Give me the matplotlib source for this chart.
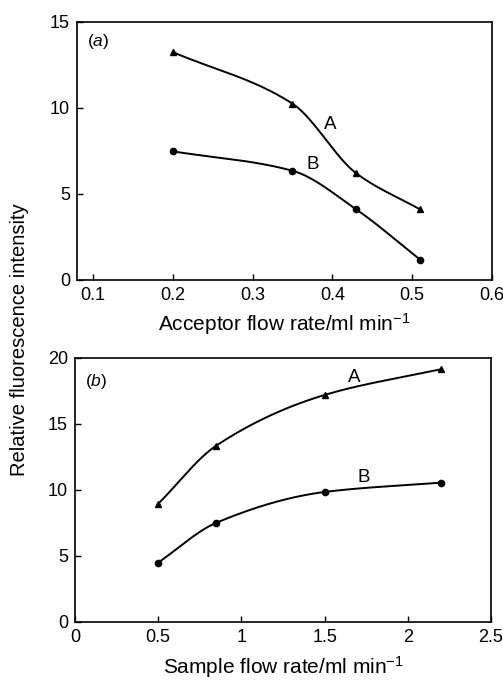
#!/usr/bin/env python3

"""Relative fluorescence intensity vs acceptor / sample flow rate (two panels)."""

import numpy as np
import matplotlib
matplotlib.use("Agg")
import matplotlib.pyplot as plt

plt.rcParams["font.family"] = ["Liberation Sans", "DejaVu Sans"]
plt.rcParams["mathtext.fontset"] = "custom"
plt.rcParams["mathtext.it"] = "Liberation Sans:italic"
plt.rcParams["mathtext.rm"] = "Liberation Sans"

# panel (a): acceptor flow rate
acceptor_rate = [0.2, 0.35, 0.43, 0.51]
acceptor_A = [13.25, 10.25, 6.2, 4.1]
acceptor_B = [7.48, 6.35, 4.1, 1.18]

# panel (b): sample flow rate
sample_rate = [0.5, 0.85, 1.5, 2.2]
sample_A = [8.95, 13.37, 17.2, 19.15]
sample_B = [4.5, 7.52, 9.85, 10.56]


def smooth(x, y, n=200):
    """Monotone cubic (Fritsch-Carlson) curve through the points, for drawing only."""
    x = np.asarray(x, float)
    y = np.asarray(y, float)
    h = np.diff(x)
    d = np.diff(y) / h
    m = np.zeros_like(y)
    m[0], m[-1] = d[0], d[-1]
    for i in range(1, len(y) - 1):
        if d[i - 1] * d[i] > 0:
            w1 = 2 * h[i] + h[i - 1]
            w2 = h[i] + 2 * h[i - 1]
            m[i] = (w1 + w2) / (w1 / d[i - 1] + w2 / d[i])
    xs = np.linspace(x[0], x[-1], n)
    idx = np.clip(np.searchsorted(x, xs) - 1, 0, len(x) - 2)
    t = (xs - x[idx]) / h[idx]
    h00 = 2 * t**3 - 3 * t**2 + 1
    h10 = t**3 - 2 * t**2 + t
    h01 = -2 * t**3 + 3 * t**2
    h11 = t**3 - t**2
    ys = h00 * y[idx] + h10 * h[idx] * m[idx] + h01 * y[idx + 1] + h11 * h[idx] * m[idx + 1]
    return xs, ys


def draw(ax, x, ya, yb):
    for y, mk, ms in ((ya, "^", 4.5), (yb, "o", 4.5)):
        xs, ys = smooth(x, y)
        ax.plot(xs, ys, color="black", lw=1.4)
        ax.plot(x, y, linestyle="none", marker=mk, ms=ms, color="black")
    ax.tick_params(direction="in", length=4, width=1, labelsize=13, pad=5)
    for s in ax.spines.values():
        s.set_linewidth(1.2)


fig = plt.figure(figsize=(5.03, 6.8), dpi=100)
ax1 = fig.add_axes([77 / 503, 1 - 280 / 680, 415 / 503, 258 / 680])
ax2 = fig.add_axes([75 / 503, 1 - 622 / 680, 416 / 503, 264 / 680])

draw(ax1, acceptor_rate, acceptor_A, acceptor_B)
ax1.set_xlim(0.08, 0.6)
ax1.set_ylim(0, 15)
ax1.set_xticks([0.1, 0.2, 0.3, 0.4, 0.5, 0.6])
ax1.set_xticklabels(["0.1", "0.2", "0.3", "0.4", "0.5", "0.6"])
ax1.set_yticks([0, 5, 10, 15])
ax1.set_xlabel("Acceptor flow rate/ml min$^{-1}$", fontsize=15, labelpad=5)
ax1.text(0.025, 0.925, "($\\mathit{a}$)", transform=ax1.transAxes, fontsize=12.5, va="center")
ax1.text(0.39, 8.8, "A", fontsize=13.5)
ax1.text(0.367, 6.45, "B", fontsize=13.5)

draw(ax2, sample_rate, sample_A, sample_B)
ax2.set_xlim(0, 2.5)
ax2.set_ylim(0, 20)
ax2.set_xticks([0, 0.5, 1, 1.5, 2, 2.5])
ax2.set_xticklabels(["0", "0.5", "1", "1.5", "2", "2.5"])
ax2.set_yticks([0, 5, 10, 15, 20])
ax2.set_xlabel("Sample flow rate/ml min$^{-1}$", fontsize=15, labelpad=6)
ax2.text(0.025, 0.91, "($\\mathit{b}$)", transform=ax2.transAxes, fontsize=12.5, va="center")
ax2.text(1.64, 18.2, "A", fontsize=13.5)
ax2.text(1.7, 10.6, "B", fontsize=13.5)

fig.text(20 / 503, 1 - 340 / 680, "Relative fluorescence intensity", rotation=90,
         fontsize=14.5, ha="center", va="center")

fig.savefig("out.png", dpi=100)
plt.close(fig)
